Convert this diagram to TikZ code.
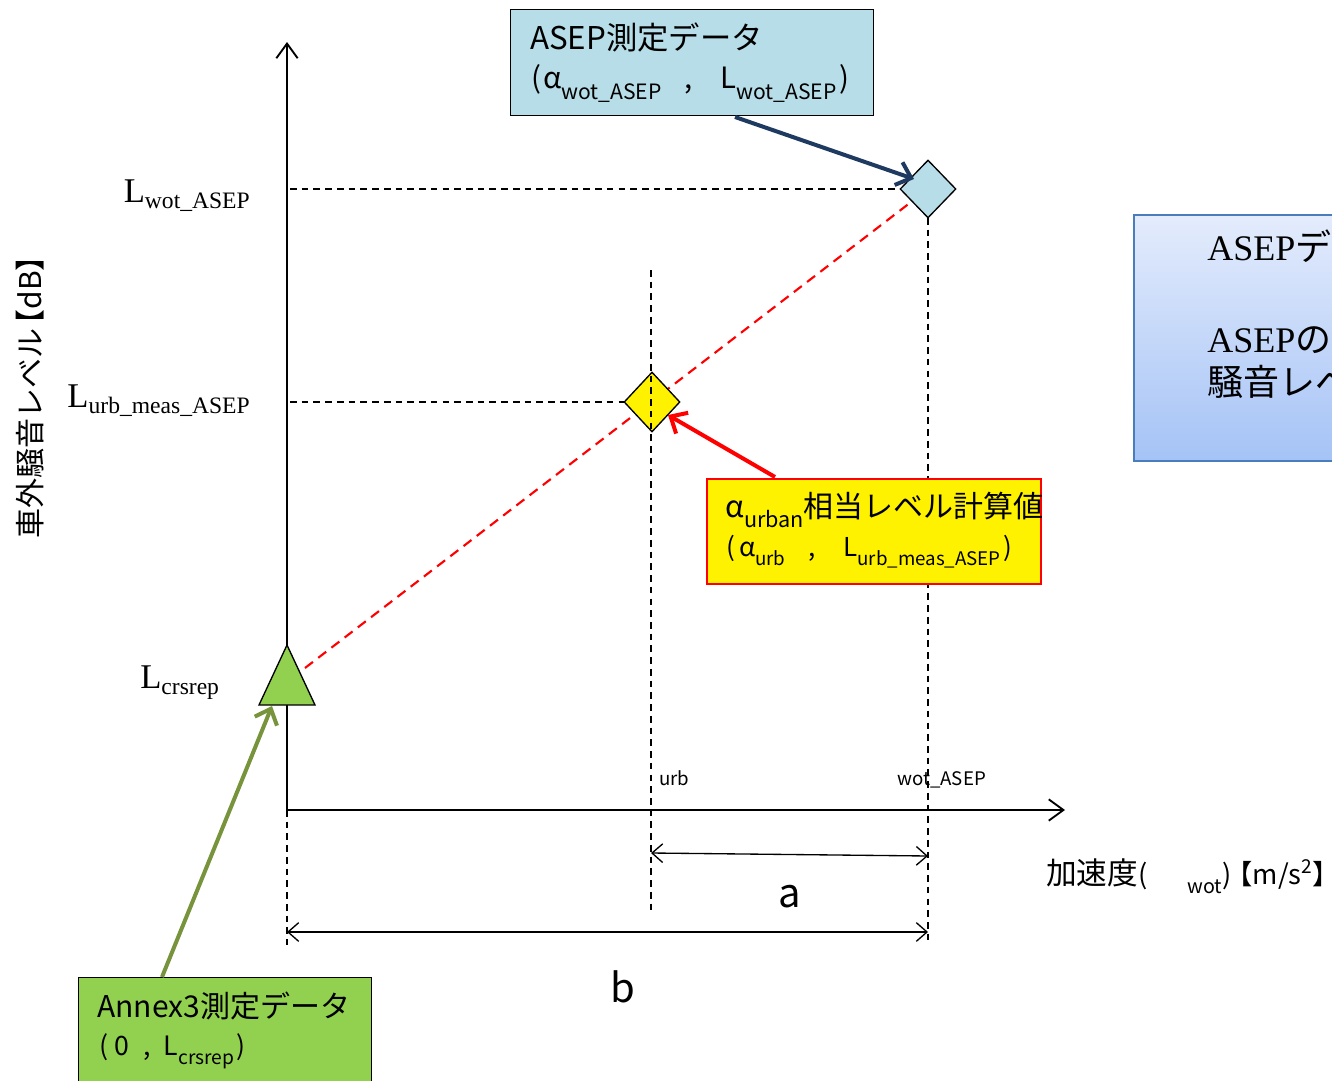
\documentclass[tikz,border=0pt]{standalone}
\usepackage{fontspec}
\setmainfont{Noto Sans CJK JP}
\newfontfamily\tnr{Liberation Serif}
\usetikzlibrary{arrows.meta,shapes.geometric}
\newcommand\fsz[1]{\fontsize{#1}{#1}\selectfont}
\newcommand\sbs[1]{\raisebox{-0.35em}{\scalebox{0.72}{#1}}}
\newcommand\tsb[1]{\raisebox{-0.2em}{\scalebox{0.68}{#1}}}
\definecolor{ltblue}{HTML}{B7DDE8}
\definecolor{lgreen}{HTML}{92D050}
\definecolor{olive}{HTML}{77933C}
\definecolor{navy}{HTML}{1F3A60}
\definecolor{rbtop}{HTML}{E4ECFC}
\definecolor{rbbot}{HTML}{A5C3F6}
\definecolor{rbedge}{HTML}{4A7EBB}
\begin{document}
\begin{tikzpicture}[x=0.75pt,y=-0.75pt,
  axis/.style={line width=1.4pt,-{Straight Barb[length=11pt,width=16pt]}},
  guide/.style={line width=1.1pt,dash pattern=on 5pt off 3.8pt},
  fitline/.style={red,line width=1.6pt,dash pattern=on 7.5pt off 5pt},
  dim/.style={line width=1pt,{Straight Barb[length=8pt,width=14pt]}-{Straight Barb[length=8pt,width=14pt]}},
  callout/.style={line width=3pt,-{Straight Barb[length=10pt,width=18pt]}},
  mk/.style={diamond,draw=black,line width=1pt,inner sep=0pt},
  lbl/.style={inner sep=0pt,anchor=base west},
  boxn/.style={draw,line width=1pt,inner sep=0pt,anchor=north west}]
\useasboundingbox (0,0) rectangle (1332,1081);
\clip (0,0) rectangle (1332,1081);

% axes
\coordinate (O) at (287,810);
\coordinate (ytop) at (287,42);
\coordinate (xend) at (1065,810);
\draw[axis] (O) -- (ytop);
\draw[axis] (O) -- (xend);

% guide lines
\coordinate (g0a) at (287,810); \coordinate (g0b) at (287,945);
\coordinate (g1a) at (651,270); \coordinate (g1b) at (651,915);
\coordinate (g2a) at (928,218); \coordinate (g2b) at (928,945);
\coordinate (h1a) at (290,189); \coordinate (h1b) at (900,189);
\coordinate (h2a) at (290,402); \coordinate (h2b) at (624,402);
\draw[guide] (g0a) -- (g0b);
\draw[guide] (g2a) -- (g2b);
\draw[guide] (h1a) -- (h1b);
\draw[guide] (h2a) -- (h2b);

% fit line
\coordinate (fs) at (305,668);
\coordinate (fe) at (928,189);
\draw[fitline] (fs) -- (fe);

% markers
\node[mk,fill=ltblue,minimum width=42pt,minimum height=43.5pt] (bd) at (928,189) {};
\node[mk,fill=yellow,minimum width=42pt,minimum height=45pt] (yd) at (652,402) {};
\draw[guide] (g1a) -- (g1b);
\coordinate (tri) at (287,680);
\draw[fill=lgreen,line width=1pt] (287,645) -- (315,705) -- (259,705) -- cycle;

% dimension arrows
\coordinate (a1) at (651,853); \coordinate (a2) at (928,856);
\coordinate (b1) at (287,932); \coordinate (b2) at (928,932);
\draw[dim] (a1) -- (a2);
\draw[dim] (b1) -- (b2);
\node (la) at (790,897) {\fsz{30}a};
\node (lb) at (623,987) {\fsz{30}b};

% axis texts
\node[lbl] (turb) at (659,785) {\fsz{14}urb};
\node[lbl] (twot) at (897,785) {\fsz{14}wot\_ASEP};
\node[lbl] (xlab) at (1046,884) {\fsz{20.5}{\fsz{23}加速度}(\hspace{30pt}\sbs{wot})\hspace{-0.22em}【m/s\textsuperscript{2}】\hspace{-0.5em}};
\node[rotate=90] (ylab) at (30,390) {\fsz{22.5}車外騒音レベル\hspace{-0.35em}【dB】\hspace{-0.45em}};
\node[inner sep=0pt,anchor=base east] (lw) at (250,202) {\tnr\fsz{26}L\tsb{wot\_ASEP}};
\node[inner sep=0pt,anchor=base east] (lu) at (250,407) {\tnr\fsz{26}L\tsb{urb\_meas\_ASEP}};
\node[inner sep=0pt,anchor=base west] (lc) at (140,688) {\tnr\fsz{26}L\tsb{crsrep}};

% boxes
\node[boxn,fill=ltblue,minimum width=272.25pt,minimum height=79.5pt] (asep) at (510,9) {};
\node[lbl] (asep1) at (530,50) {\fsz{23.5}ASEP測定データ};
\node[lbl] (asep2) at (531,89) {\fsz{22}(\hspace{1.5pt}α\sbs{wot\_ASEP}\hspace{17pt},\hspace{21pt}L\sbs{wot\_ASEP}\hspace{2pt})};

\node[boxn,draw=red,fill=yellow,line width=1.2pt,minimum width=250.5pt,minimum height=78.75pt] (urb) at (706,478) {};
\node[lbl] (urb1) at (725,517) {\fsz{22.5}α\sbs{urban}相当レベル計算値};
\node[lbl] (urb2) at (726,556) {\fsz{19.5}(\hspace{3pt}α\sbs{urb}\hspace{17pt},\hspace{21pt}L\sbs{urb\_meas\_ASEP}\hspace{2pt})};

\node[boxn,fill=lgreen,minimum width=219.75pt,minimum height=90pt] (ann) at (78,977) {};
\node[lbl] (ann1) at (97,1017) {\fsz{22.5}Annex3測定データ};
\node[lbl] (ann2) at (99,1055) {\fsz{20}(\hspace{5pt}0\hspace{10pt},\hspace{10pt}L\sbs{crsrep}\hspace{2pt})};

\node[boxn,draw=rbedge,top color=rbtop,bottom color=rbbot,line width=1.2pt,minimum width=200pt,minimum height=184.5pt] (rbox) at (1133,214) {};
\node[lbl] (r1) at (1207,260) {\fsz{27}{\tnr ASEP}データ};
\node[lbl] (r2) at (1207,352) {\fsz{27}{\tnr ASEP}の車外};
\node[lbl] (r3) at (1207,395) {\fsz{27}騒音レベル};

% callouts
\coordinate (c1s) at (735,117); \coordinate (c1e) at (914,179);
\coordinate (c2s) at (775,477); \coordinate (c2e) at (668,415);
\coordinate (c3s) at (162,977); \coordinate (c3e) at (272,706);
\draw[callout,navy] (c1s) -- (c1e);
\draw[callout,red] (c2s) -- (c2e);
\draw[callout,olive] (c3s) -- (c3e);
\end{tikzpicture}
\end{document}
